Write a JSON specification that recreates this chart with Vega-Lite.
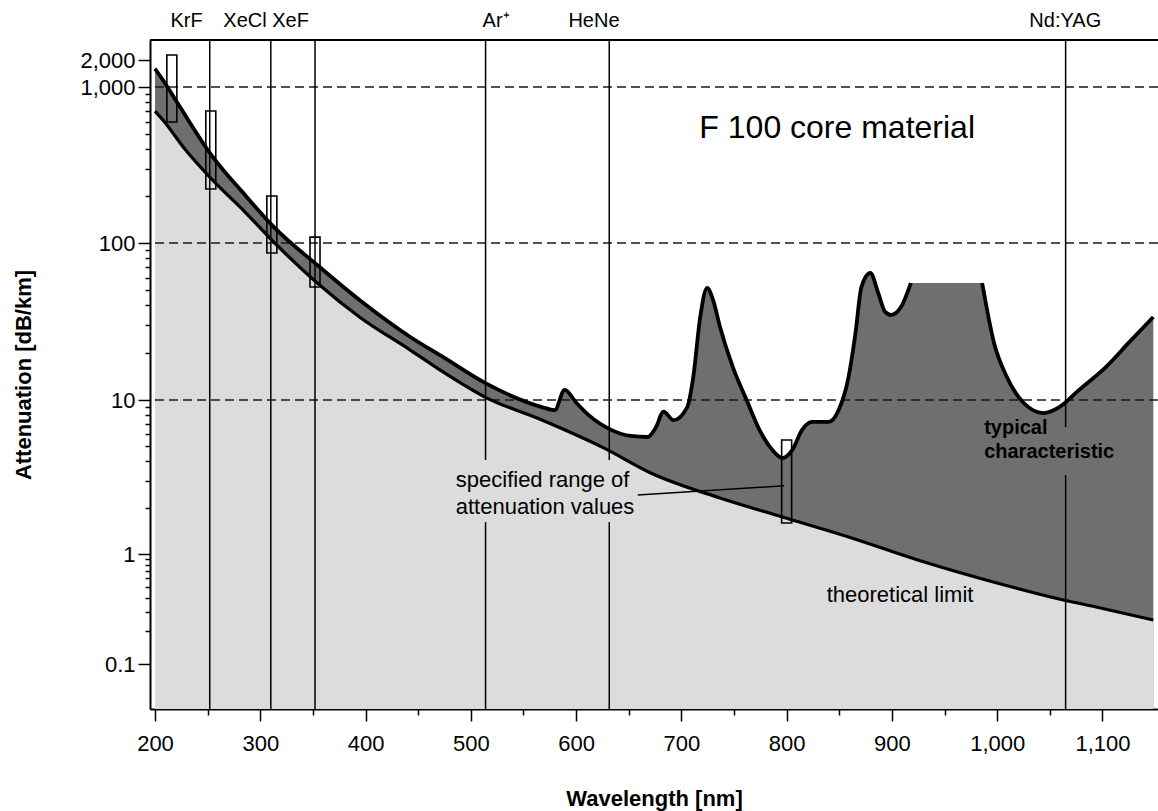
{
  "$schema": "https://vega.github.io/schema/vega-lite/v6.json",
  "width": 1008,
  "height": 669,
  "autosize": {"type": "none"},
  "padding": {"left": 150, "top": 40, "right": 0, "bottom": 102},
  "background": "white",
  "config": {
    "view": {"stroke": null},
    "font": "Liberation Sans",
    "axis": {
      "labelFont": "Liberation Sans",
      "labelColor": "black",
      "labelFontSize": 22,
      "titleFont": "Liberation Sans",
      "titleColor": "black",
      "titleFontSize": 22,
      "titleFontWeight": "bold",
      "domainColor": "black",
      "domainWidth": 2,
      "tickColor": "black",
      "tickWidth": 1.5,
      "grid": false
    },
    "text": {"font": "Liberation Sans", "color": "black"}
  },
  "datasets": {
    "typical": [
      {"nm": 200, "att": 1600, "seg": "a"}, {"nm": 207.5, "att": 1197, "seg": "a"}, {"nm": 222.6, "att": 766, "seg": "a"},
      {"nm": 253.6, "att": 366, "seg": "a"}, {"nm": 285.5, "att": 203, "seg": "a"}, {"nm": 313.7, "att": 125, "seg": "a"},
      {"nm": 354.1, "att": 72.4, "seg": "a"}, {"nm": 395.5, "att": 42.7, "seg": "a"}, {"nm": 442.5, "att": 25.2, "seg": "a"},
      {"nm": 473.5, "att": 18.8, "seg": "a"}, {"nm": 513.9, "att": 12.8, "seg": "a"}, {"nm": 567.5, "att": 9.0, "seg": "a"},
      {"nm": 579.7, "att": 8.6, "seg": "a"}, {"nm": 589.1, "att": 11.6, "seg": "a"}, {"nm": 600.4, "att": 9.56, "seg": "a"},
      {"nm": 611.7, "att": 8.0, "seg": "a"}, {"nm": 633.3, "att": 6.4, "seg": "a"}, {"nm": 652.1, "att": 5.84, "seg": "a"},
      {"nm": 668.0, "att": 5.75, "seg": "a"}, {"nm": 675.5, "att": 6.58, "seg": "a"}, {"nm": 683.1, "att": 8.4, "seg": "a"},
      {"nm": 692.5, "att": 7.4, "seg": "a"}, {"nm": 705.6, "att": 9.0, "seg": "a"}, {"nm": 711.3, "att": 14.0, "seg": "a"},
      {"nm": 717.9, "att": 33.8, "seg": "a"}, {"nm": 724.4, "att": 51.7, "seg": "a"}, {"nm": 730.1, "att": 43.4, "seg": "a"},
      {"nm": 736.7, "att": 29.2, "seg": "a"}, {"nm": 748.9, "att": 16.2, "seg": "a"}, {"nm": 762.0, "att": 10.0, "seg": "a"},
      {"nm": 774.2, "att": 6.4, "seg": "a"}, {"nm": 786.5, "att": 4.73, "seg": "a"}, {"nm": 795.9, "att": 4.2, "seg": "a"},
      {"nm": 805.3, "att": 4.73, "seg": "a"}, {"nm": 814.7, "att": 6.4, "seg": "a"}, {"nm": 824.1, "att": 7.2, "seg": "a"},
      {"nm": 840.0, "att": 7.2, "seg": "a"}, {"nm": 849.4, "att": 8.6, "seg": "a"}, {"nm": 858.8, "att": 14.0, "seg": "a"},
      {"nm": 865.4, "att": 26.7, "seg": "a"}, {"nm": 871.0, "att": 52.4, "seg": "a"}, {"nm": 879.5, "att": 64.4, "seg": "a"},
      {"nm": 887.0, "att": 48.0, "seg": "a"}, {"nm": 893.6, "att": 36.4, "seg": "a"}, {"nm": 899.2, "att": 34.8, "seg": "a"},
      {"nm": 908.6, "att": 39.1, "seg": "a"}, {"nm": 918.0, "att": 55.6, "seg": "a"},
      {"nm": 985.7, "att": 55.6, "seg": "b"}, {"nm": 997.0, "att": 23.1, "seg": "b"}, {"nm": 1009.2, "att": 14.0, "seg": "b"},
      {"nm": 1025.2, "att": 9.56, "seg": "b"}, {"nm": 1044.0, "att": 8.23, "seg": "b"}, {"nm": 1059.0, "att": 9.0, "seg": "b"},
      {"nm": 1077.8, "att": 11.6, "seg": "b"}, {"nm": 1103.2, "att": 16.2, "seg": "b"}, {"nm": 1124.8, "att": 23.1, "seg": "b"},
      {"nm": 1148.3, "att": 33.8, "seg": "b"}
    ],
    "theory": [
      {"nm": 200, "att": 700}, {"nm": 207.5, "att": 614}, {"nm": 229.1, "att": 394}, {"nm": 254.5, "att": 253.6},
      {"nm": 285.5, "att": 158}, {"nm": 313.7, "att": 100}, {"nm": 354.1, "att": 55.6}, {"nm": 395.5, "att": 33.3},
      {"nm": 442.5, "att": 20.8}, {"nm": 473.5, "att": 15.1}, {"nm": 513.9, "att": 10.4}, {"nm": 567.5, "att": 7.42},
      {"nm": 626.7, "att": 4.87}, {"nm": 670.9, "att": 3.36}, {"nm": 736.7, "att": 2.31}, {"nm": 795.9, "att": 1.74},
      {"nm": 858.8, "att": 1.29}, {"nm": 924.6, "att": 0.882}, {"nm": 999.8, "att": 0.545}, {"nm": 1062.8, "att": 0.382},
      {"nm": 1093.8, "att": 0.33}, {"nm": 1148.3, "att": 0.251}
    ],
    "boxes": [
      {"nm": 216, "att": 597, "att2": 2275},
      {"nm": 253, "att": 222, "att2": 701},
      {"nm": 311, "att": 86.4, "att2": 200},
      {"nm": 352, "att": 52.4, "att2": 109},
      {"nm": 800, "att": 1.59, "att2": 5.5}
    ],
    "grid": [{"att": 10}, {"att": 100}, {"att": 1000}],
    "laserlines": [
      {"laser": "KrF", "nm": 252, "att": 0.039, "att2": 3340},
      {"laser": "XeCl", "nm": 310, "att": 0.039, "att2": 3340},
      {"laser": "XeF", "nm": 352, "att": 0.039, "att2": 3340},
      {"laser": "Ar+", "nm": 514, "att": 4.07, "att2": 3340},
      {"laser": "Ar+", "nm": 514, "att": 0.039, "att2": 1.61},
      {"laser": "HeNe", "nm": 631.5, "att": 4.07, "att2": 3340},
      {"laser": "HeNe", "nm": 631.5, "att": 0.039, "att2": 1.61},
      {"laser": "Nd:YAG", "nm": 1065, "att": 6.68, "att2": 3340},
      {"laser": "Nd:YAG", "nm": 1065, "att": 0.039, "att2": 3.26}
    ],
    "laserlabels": [
      {"label": "KrF", "nm": 230},
      {"label": "XeCl", "nm": 285.5},
      {"label": "XeF", "nm": 328.8},
      {"label": "Ar⁺", "nm": 524},
      {"label": "HeNe", "nm": 617},
      {"label": "Nd:YAG", "nm": 1064.7}
    ]
  },
  "layer": [
    {
      "data": {"name": "typical"},
      "mark": {"type": "area", "interpolate": "monotone", "color": "#6f6f6f"},
      "encoding": {
        "x": {"field": "nm", "type": "quantitative",
          "scale": {"type": "linear", "domain": [200, 1148], "nice": false, "zero": false},
          "axis": {
            "title": "Wavelength [nm]",
            "values": [200,225,250,275,300,325,350,375,400,425,450,475,500,525,550,575,600,625,650,675,700,725,750,775,800,825,850,875,900,925,950,975,1000,1025,1050,1075,1100,1125],
            "labelExpr": "datum.value % 100 === 0 ? format(datum.value, ',') : ''",
            "tickSize": {"condition": {"test": "datum.value % 100 === 0", "value": 12}, "value": 6},
            "labelPadding": 12,
            "labelFlush": true,
            "labelFlushOffset": 0,
            "titlePadding": 34
          }},
        "y": {"field": "att", "type": "quantitative",
          "scale": {"type": "log", "domain": [0.039, 0.1, 1, 10, 100, 1000, 2000, 3340], "range": [669, 624, 514, 360, 203, 47, 20, 0], "nice": false},
          "axis": {
            "title": "Attenuation [dB/km]",
            "values": [0.1,0.2,0.3,0.4,0.5,0.6,0.7,0.8,0.9,1,2,3,4,5,6,7,8,9,10,20,30,40,50,60,70,80,90,100,200,300,400,500,600,700,800,900,1000,2000],
            "labelExpr": "indexof([0.1,1,10,100,1000,2000], datum.value) >= 0 ? format(datum.value, ',~f') : ''",
            "tickSize": {"condition": {"test": "indexof([0.1,1,10,100,1000,2000], datum.value) >= 0", "value": 12}, "value": 5},
            "labelPadding": 3,
            "titlePadding": 44
          }},
        "y2": {"datum": 0.039}
      }
    },
    {
      "data": {"name": "theory"},
      "mark": {"type": "area", "interpolate": "monotone", "color": "#dcdcdc"},
      "encoding": {
        "x": {"field": "nm", "type": "quantitative", "scale": {"type": "linear", "domain": [200, 1148], "nice": false, "zero": false}},
        "y": {"field": "att", "type": "quantitative", "scale": {"type": "log", "domain": [0.039, 0.1, 1, 10, 100, 1000, 2000, 3340], "range": [669, 624, 514, 360, 203, 47, 20, 0], "nice": false}},
        "y2": {"datum": 0.039}
      }
    },
    {
      "data": {"name": "grid"},
      "mark": {"type": "rule", "color": "#1a1a1a", "strokeWidth": 1.4, "strokeDash": [9, 5]},
      "encoding": {
        "y": {"field": "att", "type": "quantitative", "scale": {"type": "log", "domain": [0.039, 0.1, 1, 10, 100, 1000, 2000, 3340], "range": [669, 624, 514, 360, 203, 47, 20, 0], "nice": false}}
      }
    },
    {
      "data": {"name": "laserlines"},
      "mark": {"type": "rule", "color": "black", "strokeWidth": 1.5},
      "encoding": {
        "x": {"field": "nm", "type": "quantitative", "scale": {"type": "linear", "domain": [200, 1148], "nice": false, "zero": false}},
        "y": {"field": "att", "type": "quantitative", "scale": {"type": "log", "domain": [0.039, 0.1, 1, 10, 100, 1000, 2000, 3340], "range": [669, 624, 514, 360, 203, 47, 20, 0], "nice": false}},
        "y2": {"field": "att2"}
      }
    },
    {
      "data": {"name": "theory"},
      "mark": {"type": "line", "interpolate": "monotone", "color": "black", "strokeWidth": 3.2},
      "encoding": {
        "x": {"field": "nm", "type": "quantitative", "scale": {"type": "linear", "domain": [200, 1148], "nice": false, "zero": false}},
        "y": {"field": "att", "type": "quantitative", "scale": {"type": "log", "domain": [0.039, 0.1, 1, 10, 100, 1000, 2000, 3340], "range": [669, 624, 514, 360, 203, 47, 20, 0], "nice": false}}
      }
    },
    {
      "data": {"name": "typical"},
      "mark": {"type": "line", "interpolate": "monotone", "color": "black", "strokeWidth": 3.8},
      "encoding": {
        "x": {"field": "nm", "type": "quantitative", "scale": {"type": "linear", "domain": [200, 1148], "nice": false, "zero": false}},
        "y": {"field": "att", "type": "quantitative", "scale": {"type": "log", "domain": [0.039, 0.1, 1, 10, 100, 1000, 2000, 3340], "range": [669, 624, 514, 360, 203, 47, 20, 0], "nice": false}},
        "detail": {"field": "seg"}
      }
    },
    {
      "data": {"name": "boxes"},
      "mark": {"type": "bar", "size": 10, "fill": "white", "fillOpacity": 0, "stroke": "black", "strokeWidth": 1.6},
      "encoding": {
        "x": {"field": "nm", "type": "quantitative", "scale": {"type": "linear", "domain": [200, 1148], "nice": false, "zero": false}},
        "y": {"field": "att", "type": "quantitative", "scale": {"type": "log", "domain": [0.039, 0.1, 1, 10, 100, 1000, 2000, 3340], "range": [669, 624, 514, 360, 203, 47, 20, 0], "nice": false}},
        "y2": {"field": "att2"}
      }
    },
    {
      "data": {"values": [{"nm": 658.6, "att": 2.42, "nm2": 797.7, "att2": 2.77}]},
      "mark": {"type": "rule", "color": "black", "strokeWidth": 1.5},
      "encoding": {
        "x": {"field": "nm", "type": "quantitative", "scale": {"type": "linear", "domain": [200, 1148], "nice": false, "zero": false}},
        "y": {"field": "att", "type": "quantitative", "scale": {"type": "log", "domain": [0.039, 0.1, 1, 10, 100, 1000, 2000, 3340], "range": [669, 624, 514, 360, 203, 47, 20, 0], "nice": false}},
        "x2": {"field": "nm2"},
        "y2": {"field": "att2"}
      }
    },
    {
      "data": {"values": [{"att": 3340}]},
      "mark": {"type": "rule", "color": "black", "strokeWidth": 2},
      "encoding": {
        "y": {"field": "att", "type": "quantitative", "scale": {"type": "log", "domain": [0.039, 0.1, 1, 10, 100, 1000, 2000, 3340], "range": [669, 624, 514, 360, 203, 47, 20, 0], "nice": false}}
      }
    },
    {
      "data": {"name": "laserlabels"},
      "mark": {"type": "text", "fontSize": 20, "align": "center", "baseline": "alphabetic", "dy": -13},
      "encoding": {
        "x": {"field": "nm", "type": "quantitative", "scale": {"type": "linear", "domain": [200, 1148], "nice": false, "zero": false}},
        "y": {"datum": 3340, "type": "quantitative", "scale": {"type": "log", "domain": [0.039, 0.1, 1, 10, 100, 1000, 2000, 3340], "range": [669, 624, 514, 360, 203, 47, 20, 0], "nice": false}},
        "text": {"field": "label"}
      }
    },
    {
      "data": {"values": [{"t": "F 100 core material", "nm": 848, "att": 546}]},
      "mark": {"type": "text", "fontSize": 32, "align": "center", "baseline": "middle"},
      "encoding": {
        "x": {"field": "nm", "type": "quantitative", "scale": {"type": "linear", "domain": [200, 1148], "nice": false, "zero": false}},
        "y": {"field": "att", "type": "quantitative", "scale": {"type": "log", "domain": [0.039, 0.1, 1, 10, 100, 1000, 2000, 3340], "range": [669, 624, 514, 360, 203, 47, 20, 0], "nice": false}},
        "text": {"field": "t"}
      }
    },
    {
      "data": {"values": [
        {"t": "specified range of", "nm": 485.7, "att": 3.02},
        {"t": "attenuation values", "nm": 485.7, "att": 2.02}
      ]},
      "mark": {"type": "text", "fontSize": 22, "align": "left", "baseline": "middle"},
      "encoding": {
        "x": {"field": "nm", "type": "quantitative", "scale": {"type": "linear", "domain": [200, 1148], "nice": false, "zero": false}},
        "y": {"field": "att", "type": "quantitative", "scale": {"type": "log", "domain": [0.039, 0.1, 1, 10, 100, 1000, 2000, 3340], "range": [669, 624, 514, 360, 203, 47, 20, 0], "nice": false}},
        "text": {"field": "t"}
      }
    },
    {
      "data": {"values": [
        {"t": "typical", "nm": 987.6, "att": 6.58},
        {"t": "characteristic", "nm": 987.6, "att": 4.59}
      ]},
      "mark": {"type": "text", "fontSize": 20, "fontWeight": "bold", "align": "left", "baseline": "middle"},
      "encoding": {
        "x": {"field": "nm", "type": "quantitative", "scale": {"type": "linear", "domain": [200, 1148], "nice": false, "zero": false}},
        "y": {"field": "att", "type": "quantitative", "scale": {"type": "log", "domain": [0.039, 0.1, 1, 10, 100, 1000, 2000, 3340], "range": [669, 624, 514, 360, 203, 47, 20, 0], "nice": false}},
        "text": {"field": "t"}
      }
    },
    {
      "data": {"values": [{"t": "theoretical limit", "nm": 907.7, "att": 0.424}]},
      "mark": {"type": "text", "fontSize": 22, "align": "center", "baseline": "middle"},
      "encoding": {
        "x": {"field": "nm", "type": "quantitative", "scale": {"type": "linear", "domain": [200, 1148], "nice": false, "zero": false}},
        "y": {"field": "att", "type": "quantitative", "scale": {"type": "log", "domain": [0.039, 0.1, 1, 10, 100, 1000, 2000, 3340], "range": [669, 624, 514, 360, 203, 47, 20, 0], "nice": false}},
        "text": {"field": "t"}
      }
    }
  ]
}
